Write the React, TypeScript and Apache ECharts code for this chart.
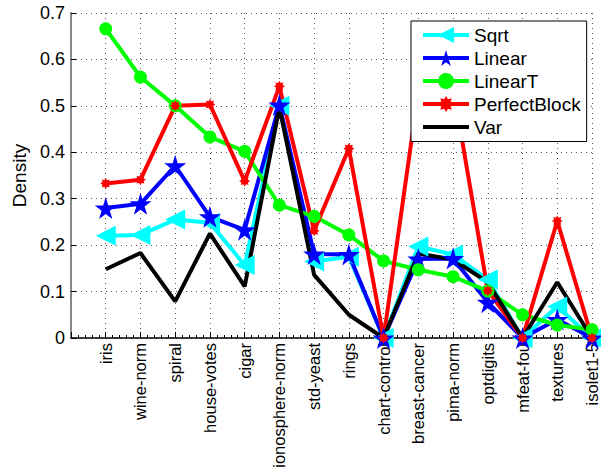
import React, { useEffect, useRef } from "react";
import * as echarts from "echarts";

const categories = [
  "iris", "wine-norm", "spiral", "house-votes", "cigar", "ionosphere-norm", "std-yeast",
  "rings", "chart-control", "breast-cancer", "pima-norm", "optdigits", "mfeat-fou", "textures", "isolet1-5",
];
const sqrtValues = [0.220, 0.222, 0.255, 0.248, 0.157, 0.500, 0.165, 0.175, 0, 0.197, 0.180, 0.126, 0, 0.068, 0];
const linearValues = [0.280, 0.289, 0.371, 0.261, 0.233, 0.502, 0.181, 0.180, 0, 0.170, 0.171, 0.077, 0, 0.040, 0];
const linearTValues = [0.666, 0.562, 0.500, 0.433, 0.402, 0.286, 0.262, 0.222, 0.166, 0.147, 0.132, 0.101, 0.050, 0.028, 0.018];
const perfectBlockValues = [0.333, 0.341, 0.500, 0.503, 0.338, 0.542, 0.231, 0.408, 0, 0.53, 0.54, 0.102, 0, 0.252, 0];
const varValues = [0.148, 0.183, 0.079, 0.225, 0.111, 0.497, 0.136, 0.050, 0, 0.182, 0.169, 0.120, 0, 0.120, 0];
const yTicks = [0, 0.1, 0.2, 0.3, 0.4, 0.5, 0.6, 0.7];

const FONT = "'Liberation Sans', Arial, Helvetica, sans-serif";
const TRI_LEFT = "path://M0,50 L100,0 L100,100 Z";
const STAR5 = "path://M50,0 L61,35 L98,35 L68,57 L79,91 L50,70 L21,91 L32,57 L2,35 L39,35 Z";
const BURST = "path://M100,50 L79.6,62.2 L85.4,85.4 L62.2,79.6 L50,100 L37.8,79.6 L14.6,85.4 L20.4,62.2 L0,50 L20.4,37.8 L14.6,14.6 L37.8,20.4 L50,0 L62.2,20.4 L85.4,14.6 L79.6,37.8 Z";
const LINE_ICON = "path://M0,0 L46,0 L46,4 L0,4 Z";

const toPoints = (vals: number[]) => vals.map((v, i) => [i + 1, v]);

export default function App() {
  const ref = useRef<HTMLDivElement>(null);
  useEffect(() => {
    if (!ref.current) return;
    const chart = echarts.init(ref.current, null, { renderer: "svg" });
    const mk = (name: string, vals: number[], color: string, symbol: string, size: number | number[]) => ({
      name,
      type: "line",
      data: toPoints(vals),
      symbol,
      symbolSize: size,
      showSymbol: symbol !== "none",
      lineStyle: { color, width: 4 },
      itemStyle: { color, borderColor: color, borderWidth: 0 },
      emphasis: { disabled: true },
      clip: true,
    });
    chart.setOption({
      animation: false,
      textStyle: { fontFamily: FONT },
      grid: { left: 71, top: 13, right: 9, bottom: 135, containLabel: false },
      legend: {
        orient: "vertical",
        left: 411,
        top: 21,
        padding: [4.5, 6, 5, 10],
        itemGap: 4,
        itemWidth: 46,
        itemHeight: 20,
        backgroundColor: "#fff",
        borderColor: "#000",
        borderWidth: 1,
        lineStyle: { width: 4 },
        textStyle: { fontSize: 19, color: "#000", fontFamily: FONT },
        data: [
          { name: "Sqrt" },
          { name: "Linear" },
          { name: "LinearT" },
          { name: "PerfectBlock" },
          { name: "Var", icon: LINE_ICON, itemStyle: { color: "#000" } },
        ],
      },
      xAxis: {
        type: "value",
        min: 0,
        max: 15,
        interval: 1,
        axisLine: { show: true, lineStyle: { color: "#000", width: 1.5 } },
        axisTick: { show: true, inside: true, length: 6, lineStyle: { color: "#000" } },
        minorTick: { show: true, splitNumber: 5, length: 3, lineStyle: { color: "#000" } },
        splitLine: { show: true, lineStyle: { color: "#555", type: [1, 4], width: 1 } },
        axisLabel: {
          rotate: 90,
          margin: 5,
          fontSize: 16.5,
          color: "#000",
          fontFamily: FONT,
          formatter: (v: number) => categories[v - 1] ?? "",
        },
      },
      yAxis: {
        type: "value",
        min: 0,
        max: 0.7,
        interval: 0.1,
        name: "Density",
        nameLocation: "middle",
        nameRotate: 90,
        nameGap: 38,
        nameTextStyle: { fontSize: 19, color: "#000", fontFamily: FONT },
        axisLine: { show: true, lineStyle: { color: "#888", width: 2 } },
        axisTick: { show: true, inside: true, length: 5, lineStyle: { color: "#000" } },
        splitLine: { show: true, lineStyle: { color: "#555", type: [1, 4], width: 1 } },
        axisLabel: {
          margin: 6,
          fontSize: 18,
          color: "#000",
          fontFamily: FONT,
          formatter: (v: number) => {
            const t = yTicks.find((y) => Math.abs(y - v) < 1e-6);
            return t === 0 ? "0" : (t ?? v).toFixed(1);
          },
        },
      },
      series: [
        mk("Sqrt", sqrtValues, "#00ffff", TRI_LEFT, [20, 20]),
        mk("Linear", linearValues, "#0000ff", STAR5, 22),
        mk("LinearT", linearTValues, "#00ff00", "circle", 13),
        mk("PerfectBlock", perfectBlockValues, "#ff0000", BURST, 11),
        mk("Var", varValues, "#000000", "none", 0),
      ],
    });
    return () => chart.dispose();
  }, []);
  return <div ref={ref} style={{ position: "fixed", left: 0, top: 0, width: 601, height: 473, background: "#fff" }} />;
}
